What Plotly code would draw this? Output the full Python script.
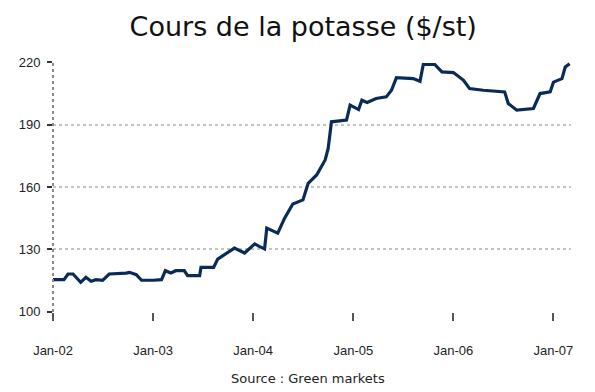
import plotly.graph_objects as go

dates = [
    "2002-01-01", "2002-02-10", "2002-02-25", "2002-03-15", "2002-04-12", "2002-05-01",
    "2002-05-20", "2002-06-07", "2002-07-01", "2002-07-25", "2002-09-25", "2002-10-07",
    "2002-11-01", "2002-11-20", "2003-01-01", "2003-02-01", "2003-02-15", "2003-03-07",
    "2003-03-25", "2003-04-25", "2003-05-07", "2003-06-20", "2003-06-25", "2003-08-10",
    "2003-08-25", "2003-10-25", "2003-12-01", "2004-01-07", "2004-01-25", "2004-02-12",
    "2004-02-20", "2004-03-31", "2004-04-25", "2004-05-25", "2004-07-01", "2004-07-20",
    "2004-08-20", "2004-09-20", "2004-10-01", "2004-10-13", "2004-12-07", "2004-12-20",
    "2005-01-20", "2005-02-01", "2005-02-20", "2005-03-25", "2005-05-01", "2005-05-20",
    "2005-06-07", "2005-08-07", "2005-09-01", "2005-09-13", "2005-10-25", "2005-11-20",
    "2006-01-01", "2006-01-20", "2006-02-07", "2006-03-01", "2006-04-20", "2006-07-07",
    "2006-07-20", "2006-08-20", "2006-10-20", "2006-11-13", "2006-12-20", "2007-01-01",
    "2007-02-01", "2007-02-13", "2007-03-01",
]
prices = [
    115.4, 115.4, 118.1, 118.1, 114.1, 116.5,
    114.6, 115.4, 115.0, 118.1, 118.5, 118.9,
    117.8, 115.1, 115.1, 115.4, 119.7, 118.6,
    119.7, 119.7, 117.3, 117.3, 121.3, 121.3,
    125.3, 130.6, 128.2, 132.6, 131.3, 130.2,
    140.2, 137.8, 145.0, 151.8, 153.8, 161.8,
    165.8, 173.0, 178.6, 191.4, 192.2, 199.4,
    197.3, 201.8, 200.7, 202.6, 203.4, 206.6,
    212.7, 212.2, 210.9, 219.0, 219.0, 215.4,
    215.1, 213.0, 211.4, 207.4, 206.6, 205.8,
    200.2, 197.0, 197.8, 205.0, 205.8, 210.5,
    212.2, 217.8, 219.4,
]
x_ticks = ["2002-01-01", "2003-01-01", "2004-01-01", "2005-01-01", "2006-01-01", "2007-01-01"]
x_labels = ["Jan-02", "Jan-03", "Jan-04", "Jan-05", "Jan-06", "Jan-07"]
y_ticks = [100, 130, 160, 190, 220]

title_text = "Cours de la potasse ($/st)"
source_text = "Source : Green markets"

tick_font = dict(family="Liberation Sans Narrow, Liberation Sans, Arial", size=13, color="#222")

fig = go.Figure()
fig.add_trace(go.Scatter(
    x=dates, y=prices, mode="lines",
    line=dict(color="#0a2b58", width=3.2),
    showlegend=False, hoverinfo="skip",
))

fig.update_layout(
    width=587, height=384,
    margin=dict(l=45, r=24, t=54, b=80),
    paper_bgcolor="white", plot_bgcolor="white",
    title=dict(text=title_text, x=0.503, xanchor="center", y=0.951, yanchor="middle",
               font=dict(family="DejaVu Sans", size=27, color="#111")),
    xaxis=dict(
        type="date", range=["2002-01-01", "2007-03-06"],
        tickvals=x_ticks, ticktext=x_labels, tickfont=tick_font,
        ticks="outside", ticklen=8, tickcolor="#555", tickwidth=1.5,
        ticklabelstandoff=18,
        showgrid=False, showline=False, zeroline=False,
    ),
    yaxis=dict(
        range=[99.8, 220.2], tickvals=y_ticks, tickfont=tick_font,
        ticks="outside", ticklen=5, tickcolor="#333", tickwidth=1.5,
        ticklabelstandoff=4,
        showgrid=True, gridcolor="#c4c4c4", griddash="dot", gridwidth=1.5,
        showline=False, zeroline=False,
    ),
    shapes=[dict(
        type="line", xref="paper", yref="paper", x0=0, x1=0, y0=0, y1=1,
        line=dict(color="#8a8a8a", width=2, dash="dot"), layer="above",
    )],
    annotations=[dict(
        text=source_text, xref="paper", yref="paper", x=0.492, y=-0.265,
        xanchor="center", yanchor="middle", showarrow=False,
        font=dict(family="DejaVu Sans, Verdana", size=13, color="#222"),
    )],
)

fig.write_html("out.html")
